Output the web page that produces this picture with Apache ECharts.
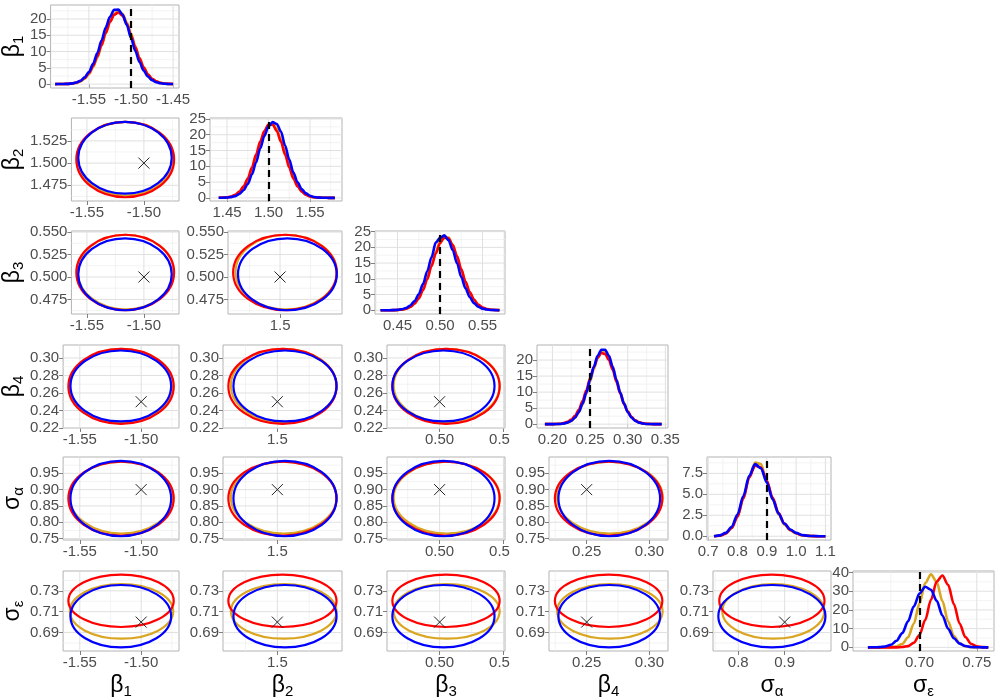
<!DOCTYPE html>
<html>
<head>
<meta charset="utf-8">
<script src="https://cdn.jsdelivr.net/npm/echarts@6/dist/echarts.min.js"></script>
<style>
  html, body { margin: 0; padding: 0; background: #fff; }
  #chart { width: 1000px; height: 700px; }
</style>
</head>
<body>
<div id="chart"></div>
<script>
const FONT = '"Liberation Sans", Arial, sans-serif';

// parameters (symbol + subscript) and their true values
const paramSym = ['β', 'β', 'β', 'β', 'σ', 'σ'];
const paramSub = ['1', '2', '3', '4', 'α', 'ε'];
const truth = [-1.5, 1.5, 0.5, 0.25, 0.9, 0.7];

// goldenrod, red, blue
const methodColors = ['#DAA520', '#FF0000', '#0000FF'];

// ellipse centres and half-widths per parameter
const centerGold = [-1.5160, 1.5050, 0.5055, 0.2685, 0.8755, 0.7103];
const centerRed  = [-1.5164, 1.5040, 0.5050, 0.2675, 0.8725, 0.7204];
const centerBlue = [-1.5166, 1.5060, 0.5030, 0.2680, 0.8725, 0.7057];
const radGold = [0.0421, 0.0415, 0.0415, 0.0420, 0.1100, 0.0262];
const radRed  = [0.0429, 0.0425, 0.0420, 0.0428, 0.1135, 0.0251];
const radBlue = [0.0410, 0.0405, 0.0400, 0.0405, 0.1155, 0.0299];

// off-diagonal axis ranges, ticks and grid lines
const offMin = [-1.5636, 1.4573, 0.4588, 0.2200, 0.7455, 0.6723];
const offMax = [-1.4692, 1.5508, 0.5512, 0.3148, 1.0000, 0.7490];
const xTicksOff = [[-1.55, -1.50], [1.5], [0.50, 0.55], [0.25, 0.30], [0.8, 0.9], []];
const xMinorOff = [[-1.525, -1.475], [1.475, 1.525], [0.475, 0.525], [0.225, 0.275], [0.75, 0.85, 0.95], []];
const xDigitsOff = [2, 1, 2, 2, 1, 2];
const yTicksOff = [[], [1.475, 1.500, 1.525], [0.475, 0.500, 0.525, 0.550], [0.22, 0.24, 0.26, 0.28, 0.30], [0.75, 0.80, 0.85, 0.90, 0.95], [0.69, 0.71, 0.73]];
const yMinorOff = [[], [1.4625, 1.4875, 1.5125, 1.5375], [0.4625, 0.4875, 0.5125, 0.5375], [0.23, 0.25, 0.27, 0.29], [0.775, 0.825, 0.875, 0.925, 0.975], [0.68, 0.70, 0.72, 0.74]];
const yDigitsOff = [2, 3, 3, 2, 2, 2];

// diagonal (density) axis ranges, ticks and grid lines
const diagXMin = [-1.5955, 1.4295, 0.4235, 0.1795, 0.696, 0.642];
const diagXMax = [-1.4430, 1.5886, 0.5765, 0.3535, 1.119, 0.765];
const diagYMin = [-1.2, -1.0, -1.2, -1.2, -0.45, -1.95];
const diagYMax = [24.3, 25.3, 25.2, 24.7, 9.45, 40.8];
const diagXTicks = [[-1.55, -1.50, -1.45], [1.45, 1.50, 1.55], [0.45, 0.50, 0.55], [0.20, 0.25, 0.30, 0.35], [0.7, 0.8, 0.9, 1.0, 1.1], [0.70, 0.75]];
const diagXMinor = [[-1.575, -1.525, -1.475], [1.475, 1.525, 1.575], [0.425, 0.475, 0.525, 0.575], [0.225, 0.275, 0.325], [0.75, 0.85, 0.95, 1.05], [0.675, 0.725]];
const diagXDigits = [2, 2, 2, 2, 1, 2];
const diagYTicks = [[0, 5, 10, 15, 20], [0, 5, 10, 15, 20, 25], [0, 5, 10, 15, 20, 25], [0, 5, 10, 15, 20], [0, 2.5, 5, 7.5], [0, 10, 20, 30, 40]];
const diagYMinor = [[2.5, 7.5, 12.5, 17.5, 22.5], [2.5, 7.5, 12.5, 17.5, 22.5], [2.5, 7.5, 12.5, 17.5, 22.5], [2.5, 7.5, 12.5, 17.5, 22.5], [1.25, 3.75, 6.25, 8.75], [5, 15, 25, 35]];
const diagYDigits = [0, 0, 0, 0, 1, 0];

// density curves: x grid + one y array per method
const xsB1 = [-1.590, -1.585, -1.580, -1.575, -1.570, -1.565, -1.560, -1.555, -1.550, -1.545, -1.540, -1.535, -1.530, -1.525, -1.520, -1.515, -1.510, -1.505, -1.500, -1.495, -1.490, -1.485, -1.480, -1.475, -1.470, -1.465, -1.460, -1.455, -1.450];
const goldB1 = [0, 0.01, 0.02, 0.06, 0.16, 0.38, 0.83, 1.64, 3.04, 5.2, 8.1, 11.8, 15.5, 19.0, 21.6, 22.5, 21.6, 19.0, 15.5, 11.8, 8.1, 5.2, 3.04, 1.64, 0.83, 0.38, 0.16, 0.06, 0.02];
const redB1  = [0, 0.01, 0.03, 0.08, 0.20, 0.46, 0.97, 1.88, 3.36, 5.55, 8.5, 12.0, 15.8, 19.1, 21.3, 22.0, 21.0, 18.5, 15.0, 11.4, 7.9, 5.1, 3.04, 1.64, 0.83, 0.39, 0.17, 0.07, 0.02];
const blueB1 = [0, 0.01, 0.03, 0.08, 0.21, 0.49, 1.04, 2.05, 3.73, 6.2, 9.55, 13.4, 17.4, 20.7, 22.8, 22.9, 21.3, 18.2, 14.2, 10.3, 6.8, 4.17, 2.33, 1.21, 0.57, 0.25, 0.10, 0.04, 0.01];

const xsB2 = [1.440, 1.445, 1.450, 1.455, 1.460, 1.465, 1.470, 1.475, 1.480, 1.485, 1.490, 1.495, 1.500, 1.505, 1.510, 1.515, 1.520, 1.525, 1.530, 1.535, 1.540, 1.545, 1.550, 1.555, 1.560, 1.565, 1.570, 1.575, 1.580];
const goldB2 = [0.02, 0.05, 0.14, 0.35, 0.80, 1.64, 3.13, 5.5, 8.7, 12.8, 17.0, 20.7, 23.1, 23.5, 21.9, 18.5, 14.4, 10.2, 6.7, 3.95, 2.14, 1.07, 0.49, 0.21, 0.08, 0.03, 0.01, 0, 0];
const redB2  = [0.02, 0.07, 0.17, 0.43, 0.96, 1.96, 3.66, 6.1, 9.6, 13.7, 17.8, 21.2, 23.2, 23.2, 21.2, 17.8, 13.7, 9.6, 6.1, 3.66, 1.96, 0.96, 0.43, 0.17, 0.07, 0.02, 0.01, 0, 0];
const blueB2 = [0.01, 0.03, 0.09, 0.24, 0.56, 1.22, 2.43, 4.4, 7.36, 11.2, 15.6, 19.6, 22.7, 24.0, 23.4, 21.0, 16.6, 12.1, 8.0, 4.9, 2.76, 1.41, 0.66, 0.28, 0.11, 0.04, 0.01, 0, 0];

const xsB3 = [0.430, 0.435, 0.440, 0.445, 0.450, 0.455, 0.460, 0.465, 0.470, 0.475, 0.480, 0.485, 0.490, 0.495, 0.500, 0.505, 0.510, 0.515, 0.520, 0.525, 0.530, 0.535, 0.540, 0.545, 0.550, 0.555, 0.560, 0.565, 0.570];
const goldB3 = [0, 0, 0.01, 0.02, 0.07, 0.19, 0.47, 1.04, 2.10, 3.9, 6.6, 10.1, 14.4, 18.6, 21.9, 23.5, 23.1, 20.8, 17.0, 12.8, 8.7, 5.4, 3.1, 1.6, 0.76, 0.33, 0.13, 0.05, 0.02];
const redB3  = [0, 0, 0.01, 0.02, 0.07, 0.19, 0.46, 1.02, 2.07, 3.8, 6.4, 9.9, 14.0, 18.0, 21.3, 23.1, 22.9, 20.7, 17.2, 13.1, 9.1, 5.8, 3.4, 1.8, 0.88, 0.39, 0.16, 0.06, 0.02];
const blueB3 = [0, 0, 0.01, 0.04, 0.12, 0.31, 0.71, 1.50, 2.9, 5.1, 8.3, 12.4, 16.8, 21.5, 23.0, 23.8, 22.3, 19.1, 15.0, 10.6, 7.0, 4.15, 2.26, 1.12, 0.51, 0.21, 0.08, 0.03, 0.01];

const xsB4 = [0.190, 0.195, 0.200, 0.205, 0.210, 0.215, 0.220, 0.225, 0.230, 0.235, 0.240, 0.245, 0.250, 0.255, 0.260, 0.265, 0.270, 0.275, 0.280, 0.285, 0.290, 0.295, 0.300, 0.305, 0.310, 0.315, 0.320, 0.325, 0.330, 0.335, 0.340, 0.345];
const goldB4 = [0, 0, 0.01, 0.03, 0.08, 0.20, 0.47, 1.0, 2.0, 3.65, 6.1, 9.4, 13.3, 17.2, 20.6, 22.7, 22.8, 21.1, 18.0, 14.0, 10.1, 6.7, 4.1, 2.3, 1.17, 0.55, 0.24, 0.09, 0.03, 0.01, 0, 0];
const redB4  = [0, 0.01, 0.02, 0.05, 0.14, 0.33, 0.70, 1.41, 2.6, 4.5, 7.2, 10.6, 14.3, 17.9, 20.7, 22.2, 21.9, 20.0, 17.0, 13.2, 9.6, 6.3, 3.9, 2.2, 1.17, 0.57, 0.26, 0.11, 0.04, 0.01, 0, 0];
const blueB4 = [0, 0, 0.01, 0.03, 0.07, 0.20, 0.48, 1.03, 2.05, 3.8, 6.4, 9.85, 13.8, 17.9, 21.3, 23.2, 23.2, 21.3, 17.9, 13.8, 9.85, 6.4, 3.8, 2.05, 1.03, 0.48, 0.20, 0.07, 0.03, 0.01, 0, 0];

const xsSa = [0.72, 0.74, 0.76, 0.78, 0.80, 0.82, 0.84, 0.86, 0.88, 0.90, 0.92, 0.94, 0.96, 0.98, 1.00, 1.02, 1.04, 1.06, 1.08, 1.10];
const goldSa = [0, 0.08, 0.35, 1.0, 2.4, 4.5, 7.0, 8.8, 8.6, 6.6, 4.4, 2.6, 1.4, 0.7, 0.35, 0.12, 0.04, 0.01, 0, 0];
const redSa  = [0, 0.06, 0.30, 0.95, 2.3, 4.5, 7.0, 8.4, 8.2, 6.6, 4.6, 2.8, 1.5, 0.75, 0.35, 0.12, 0.04, 0.01, 0, 0];
const blueSa = [0, 0.10, 0.40, 1.1, 2.6, 4.8, 7.2, 8.6, 8.1, 6.4, 4.4, 2.7, 1.5, 0.8, 0.4, 0.15, 0.05, 0.02, 0, 0];

const xsSe = [0.655, 0.660, 0.665, 0.670, 0.675, 0.680, 0.685, 0.690, 0.695, 0.700, 0.705, 0.710, 0.715, 0.720, 0.725, 0.730, 0.735, 0.740, 0.745, 0.750, 0.755, 0.760];
const goldSe = [0, 0, 0, 0.02, 0.1, 0.47, 1.8, 5.4, 12.6, 23.6, 34.3, 39.0, 35.0, 24.8, 13.8, 6.1, 2.1, 0.57, 0.12, 0.02, 0, 0];
const redSe  = [0, 0, 0, 0, 0, 0, 0.16, 0.68, 2.4, 6.6, 14.6, 25.4, 35.1, 38.4, 33.4, 23.1, 12.7, 5.5, 1.9, 0.5, 0.1, 0];
const blueSe = [0, 0.03, 0.13, 0.45, 1.36, 3.5, 7.6, 13.9, 21.8, 28.8, 32.4, 30.8, 24.9, 17.0, 9.9, 4.85, 2.0, 0.7, 0.2, 0.05, 0, 0];

// layout of the panels (pixels)
const rowTop = [5, 118, 231, 345, 457, 571];
const panelH = 83;
const colRight = [179, 342, 505, 668, 831, 994];
const panelLeft = [
  [48],
  [68, 210],
  [68, 228, 375],
  [61, 223, 387, 537],
  [61, 223, 387, 549, 707],
  [61, 223, 387, 549, 713, 853]
];

const centers = [centerGold, centerRed, centerBlue];
const radii = [radGold, radRed, radBlue];
const densX = [xsB1, xsB2, xsB3, xsB4, xsSa, xsSe];
const densY = [
  [goldB1, redB1, blueB1], [goldB2, redB2, blueB2], [goldB3, redB3, blueB3],
  [goldB4, redB4, blueB4], [goldSa, redSa, blueSa], [goldSe, redSe, blueSe]
];

const nameStyle = {
  rich: {
    m: { fontSize: 23, fontFamily: FONT, color: '#000', lineHeight: 27 },
    s: { fontSize: 15, fontFamily: FONT, color: '#000', lineHeight: 14, verticalAlign: 'bottom' }
  }
};
function paramName(k) { return '{m|' + paramSym[k] + '}{s|' + paramSub[k] + '}'; }

function axisBase(gi, min, max, ticks, digits) {
  return {
    type: 'value', gridIndex: gi, min: min, max: max,
    axisLine: { show: false },
    axisTick: { show: true, length: 4, customValues: ticks, lineStyle: { color: '#7f7f7f', width: 1 } },
    axisLabel: {
      customValues: ticks, color: '#4d4d4d', fontSize: 15, fontFamily: FONT, margin: 4,
      formatter: v => v.toFixed(digits)
    },
    splitLine: { show: false }
  };
}

function gridItems(xr, yr, xMaj, xMin, yMaj, yMin) {
  const out = [];
  xMin.forEach(v => out.push([v, yr, 0, 0]));
  yMin.forEach(v => out.push([xr, v, 1, 0]));
  xMaj.forEach(v => out.push([v, yr, 0, 1]));
  yMaj.forEach(v => out.push([xr, v, 1, 1]));
  return out;
}

function renderGridLine(params, api) {
  const cs = params.coordSys;
  const p = api.coord([api.value(0), api.value(1)]);
  const major = api.value(3) === 1;
  const shape = api.value(2) === 0
    ? { x1: p[0], y1: cs.y, x2: p[0], y2: cs.y + cs.height }
    : { x1: cs.x, y1: p[1], x2: cs.x + cs.width, y2: p[1] };
  return { type: 'line', shape: shape, style: { stroke: major ? '#e0e0e0' : '#eeeeee', lineWidth: major ? 1 : 0.7 } };
}

function renderEllipse(params, api) {
  const c = api.coord([api.value(0), api.value(1)]);
  const s = api.size([api.value(2), api.value(3)]);
  return {
    type: 'ellipse',
    shape: { cx: c[0], cy: c[1], rx: s[0], ry: s[1] },
    style: { fill: 'none', stroke: methodColors[api.value(4)], lineWidth: 2.2 }
  };
}

function renderCross(params, api) {
  const p = api.coord([api.value(0), api.value(1)]);
  const h = 5.5;
  const st = { stroke: '#222', lineWidth: 1 };
  return {
    type: 'group', children: [
      { type: 'line', shape: { x1: p[0] - h, y1: p[1] - h, x2: p[0] + h, y2: p[1] + h }, style: st },
      { type: 'line', shape: { x1: p[0] - h, y1: p[1] + h, x2: p[0] + h, y2: p[1] - h }, style: st }
    ]
  };
}

const grids = [], xAxes = [], yAxes = [], series = [];

for (let i = 0; i < 6; i++) {
  for (let j = 0; j <= i; j++) {
    const gi = grids.length;
    const left = panelLeft[i][j];
    grids.push({
      left: left, top: rowTop[i], width: colRight[j] - left, height: panelH,
      show: true, borderColor: '#b3b3b3', borderWidth: 1, backgroundColor: '#fff'
    });
    let xa, ya, gridData;
    if (i === j) {
      xa = axisBase(gi, diagXMin[i], diagXMax[i], diagXTicks[i], diagXDigits[i]);
      ya = axisBase(gi, diagYMin[i], diagYMax[i], diagYTicks[i], diagYDigits[i]);
      gridData = gridItems(diagXMin[i], diagYMin[i], diagXTicks[i], diagXMinor[i], diagYTicks[i], diagYMinor[i]);
    } else {
      xa = axisBase(gi, offMin[j], offMax[j], xTicksOff[j], xDigitsOff[j]);
      ya = axisBase(gi, offMin[i], offMax[i], yTicksOff[i], yDigitsOff[i]);
      gridData = gridItems(offMin[j], offMin[i], xTicksOff[j], xMinorOff[j], yTicksOff[i], yMinorOff[i]);
      if (j === 2) {
        // right-hand label is cut off by the neighbouring panel in the original
        xa.axisLabel.formatter = v => Math.abs(v - 0.55) < 1e-9 ? '{c|0.5}' : v.toFixed(2);
        xa.axisLabel.rich = { c: { color: '#4d4d4d', fontSize: 15, fontFamily: FONT, padding: [0, 8, 0, 0] } };
      }
    }
    if (i === 5) {
      xa.name = paramName(j);
      xa.nameLocation = 'middle';
      xa.nameGap = 21;
      xa.nameTextStyle = nameStyle;
    }
    if (j === 0) {
      ya.name = paramName(i);
      ya.nameLocation = 'middle';
      ya.nameRotate = 90;
      ya.nameGap = left - 26;
      ya.nameTextStyle = nameStyle;
    }
    xAxes.push(xa);
    yAxes.push(ya);

    series.push({
      type: 'custom', xAxisIndex: gi, yAxisIndex: gi, silent: true, z: 1,
      renderItem: renderGridLine, data: gridData
    });

    if (i === j) {
      densY[i].forEach((ys, m) => {
        const s = {
          type: 'line', xAxisIndex: gi, yAxisIndex: gi, silent: true, z: 3,
          data: densX[i].map((x, k) => [x, ys[k]]),
          smooth: 0.3, smoothMonotone: 'x', showSymbol: false, symbol: 'none',
          lineStyle: { color: methodColors[m], width: 2.6 }
        };
        if (m === 2) {
          s.markLine = {
            silent: true, symbol: ['none', 'none'], label: { show: false },
            lineStyle: { color: '#000', type: [7, 5], width: 2.2 },
            data: [{ xAxis: truth[i] }]
          };
        }
        series.push(s);
      });
    } else {
      series.push({
        type: 'custom', xAxisIndex: gi, yAxisIndex: gi, silent: true, z: 3,
        renderItem: renderEllipse,
        data: [0, 1, 2].map(m => [centers[m][j], centers[m][i], radii[m][j], radii[m][i], m])
      });
      series.push({
        type: 'custom', xAxisIndex: gi, yAxisIndex: gi, silent: true, z: 4,
        renderItem: renderCross, data: [[truth[j], truth[i]]]
      });
    }
  }
}

const chart = echarts.init(document.getElementById('chart'));
chart.setOption({
  animation: false,
  backgroundColor: '#fff',
  grid: grids,
  xAxis: xAxes,
  yAxis: yAxes,
  series: series
});
</script>
</body>
</html>
